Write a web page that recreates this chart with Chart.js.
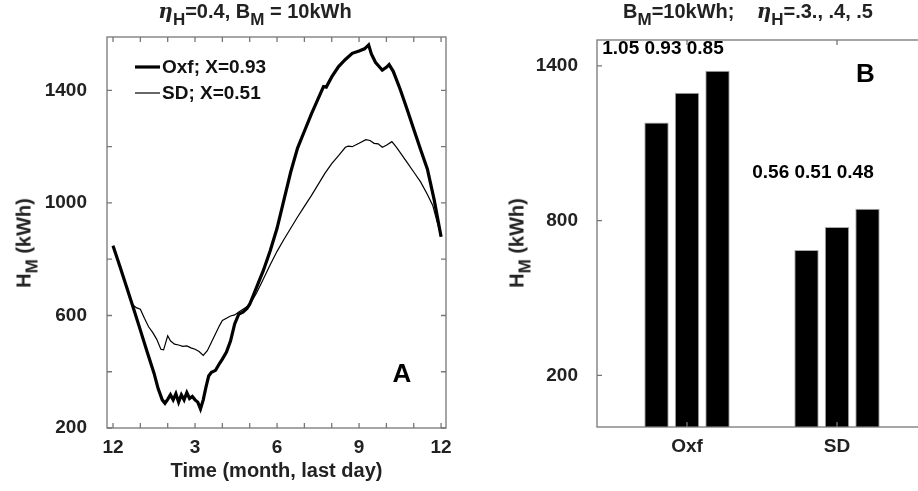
<!DOCTYPE html>
<html>
<head>
<meta charset="utf-8">
<script src="https://cdn.jsdelivr.net/npm/chart.js@4"></script>
<style>
    body { margin: 0; width: 918px; height: 491px; overflow: hidden; position: relative; background: #fff;
           font-family: "Liberation Sans", Arial, sans-serif; color: #222; }
    .panel { position: absolute; top: 0; height: 491px; }
    .title { position: absolute; top: -1px; font-size: 20px; font-weight: bold; white-space: nowrap; transform: translateX(-50%); }
    .ytitle { position: absolute; font-size: 20px; font-weight: bold; white-space: nowrap;
              transform: translate(-50%, -50%) rotate(-90deg); }
    sub { font-size: 17px; vertical-align: -7px; line-height: 0; }
    .eta { font-style: italic; font-family: "DejaVu Serif", serif; }
</style>
</head>
<body>
<div class="panel" style="left:0; width:460px;"><canvas id="line-chart"></canvas></div>
<div class="panel" style="left:460px; width:490px;"><canvas id="bar-chart"></canvas></div>

<div class="title" style="left:255px;"><span class="eta">η</span><sub>H</sub>=0.4, B<sub>M</sub> = 10kWh</div>
<div class="title" style="left:748px;">B<sub>M</sub>=10kWh;&nbsp;&nbsp;&nbsp;&nbsp;<span class="eta">η</span><sub>H</sub>=.3., .4, .5</div>
<div class="ytitle" style="left:24px; top:243px;">H<sub>M</sub> (kWh)</div>
<div class="ytitle" style="left:517px; top:243px;">H<sub>M</sub> (kWh)</div>

<script>
// Panel A: storage level through the year (months after last day of December)
const oxfMonths = [0, 0.25, 0.5, 0.75, 1.0, 1.25, 1.5, 1.65, 1.8, 1.9, 2.0, 2.1, 2.2, 2.3, 2.4, 2.5, 2.6, 2.7, 2.8, 2.9,
    3.0, 3.1, 3.2, 3.3, 3.4, 3.5, 3.6, 3.75, 3.9, 4.0, 4.15, 4.3, 4.45, 4.6, 4.75, 4.9, 5.0, 5.25, 5.5, 5.75,
    6.0, 6.25, 6.5, 6.75, 7.0, 7.25, 7.5, 7.7, 7.8, 8.0, 8.25, 8.5, 8.75, 9.0, 9.2, 9.35, 9.45, 9.6, 9.85, 10.0,
    10.1, 10.25, 10.5, 10.75, 11.0, 11.25, 11.5, 11.75, 12.0];
const oxfValues = [848, 775, 700, 625, 548, 470, 395, 340, 300, 288, 302, 318, 300, 322, 292, 318, 300, 326, 305, 312,
    300, 292, 268, 300, 345, 385, 398, 405, 430, 445, 470, 510, 570, 605, 612, 625, 640, 700, 760, 830,
    910, 1010, 1110, 1195, 1255, 1315, 1370, 1414, 1412, 1448, 1485, 1510, 1532, 1540, 1548, 1562, 1530, 1500, 1472, 1482,
    1492, 1468, 1405, 1335, 1262, 1190, 1120, 1010, 880];

const sdMonths = [0, 0.25, 0.5, 0.7, 0.85, 1.0, 1.15, 1.3, 1.45, 1.6, 1.75, 1.85, 2.0, 2.1, 2.25, 2.4, 2.55, 2.7, 2.85,
    3.0, 3.15, 3.3, 3.45, 3.6, 3.75, 3.9, 4.0, 4.15, 4.3, 4.45, 4.6, 4.8, 5.0, 5.25, 5.5, 5.75,
    6.0, 6.25, 6.5, 6.75, 7.0, 7.25, 7.5, 7.75, 8.0, 8.25, 8.5, 8.6, 8.75, 9.0, 9.25, 9.4, 9.55, 9.7, 9.85,
    10.0, 10.2, 10.35, 10.5, 10.75, 11.0, 11.25, 11.5, 11.7, 11.85, 12.0];
const sdValues = [848, 775, 700, 640, 628, 622, 590, 560, 540, 515, 480, 478, 528, 510, 498, 495, 490, 492, 485,
    480, 472, 458, 475, 505, 535, 565, 582, 590, 598, 602, 612, 625, 638, 680, 730, 780,
    828, 870, 910, 950, 988, 1025, 1065, 1105, 1140, 1168, 1198, 1202, 1200, 1212, 1225, 1222, 1212, 1210, 1198,
    1205, 1218, 1200, 1180, 1145, 1110, 1075, 1030, 990, 935, 880];

const seriesLabels = ['Oxf; X=0.93', 'SD; X=0.51'];
const monthTicks = [0, 3, 6, 9, 12];
const monthTickLabels = ['12', '3', '6', '9', '12'];
const monthMinorTicks = [0, 1, 2, 3, 4, 5, 6, 7, 8, 9, 10, 11, 12];
const lineYTicks = [200, 600, 1000, 1400];
const lineYMinorTicks = [200, 400, 600, 800, 1000, 1200, 1400];

// Panel B: storage needed for eta_H = .3, .4, .5
const groups = ['Oxf', 'SD'];
const etaLabels = ['0.3', '0.4', '0.5'];
const hmEta03 = [1180, 686];
const hmEta04 = [1296, 775];
const hmEta05 = [1381, 846];
const ratioLabels = ['1.05 0.93 0.85', '0.56 0.51 0.48'];
const barYTicks = [200, 800, 1400];

const textColor = '#222';
const frameColor = '#777';
const fontFamily = '"Liberation Sans", Arial, sans-serif';

// box round the plot with inward tick marks on all four sides
const frameTicks = {
    id: 'frameTicks',
    afterDatasetsDraw(chart, args, opts) {
        const { ctx, chartArea: a, scales } = chart;
        const len = 5;
        ctx.save();
        ctx.strokeStyle = frameColor;
        ctx.lineWidth = 1.3;
        ctx.strokeRect(a.left, a.top, a.right - a.left, a.bottom - a.top);
        ctx.beginPath();
        opts.xTicks.forEach(v => {
            const px = scales.x.getPixelForValue(v);
            ctx.moveTo(px, a.bottom); ctx.lineTo(px, a.bottom - len);
            ctx.moveTo(px, a.top); ctx.lineTo(px, a.top + len);
        });
        opts.yTicks.forEach(v => {
            const py = scales.y.getPixelForValue(v);
            ctx.moveTo(a.left, py); ctx.lineTo(a.left + len, py);
            ctx.moveTo(a.right, py); ctx.lineTo(a.right - len, py);
        });
        ctx.stroke();
        ctx.restore();
    }
};

// free text placed at data coordinates
const dataText = {
    id: 'dataText',
    afterDraw(chart, args, opts) {
        const { ctx, scales } = chart;
        ctx.save();
        ctx.fillStyle = '#000';
        ctx.textAlign = 'center';
        ctx.textBaseline = 'middle';
        opts.items.forEach(t => {
            ctx.font = `bold ${t.size}px ${fontFamily}`;
            ctx.fillText(t.text, scales.x.getPixelForValue(t.x) + (t.dx || 0), scales.y.getPixelForValue(t.y));
        });
        ctx.restore();
    }
};

// legend drawn inside the top left of the plot
const insideLegend = {
    id: 'insideLegend',
    afterDraw(chart) {
        const { ctx, chartArea: a } = chart;
        ctx.save();
        ctx.font = `bold 19px ${fontFamily}`;
        ctx.textBaseline = 'middle';
        chart.data.datasets.forEach((ds, i) => {
            const y = a.top + 30 + i * 26;
            ctx.strokeStyle = ds.borderColor;
            ctx.lineWidth = ds.borderWidth;
            ctx.beginPath();
            ctx.moveTo(a.left + 28, y);
            ctx.lineTo(a.left + 53, y);
            ctx.stroke();
            ctx.fillStyle = '#111';
            ctx.fillText(ds.label, a.left + 55, y + 1);
        });
        ctx.restore();
    }
};

function toPoints(xs, ys) {
    return xs.map((x, i) => ({ x: x, y: ys[i] }));
}

new Chart(document.getElementById('line-chart'), {
    type: 'line',
    data: {
        datasets: [
            {
                label: seriesLabels[0],
                data: toPoints(oxfMonths, oxfValues),
                borderColor: '#000',
                borderWidth: 3.2,
                pointRadius: 0,
                tension: 0
            },
            {
                label: seriesLabels[1],
                data: toPoints(sdMonths, sdValues),
                borderColor: '#000',
                borderWidth: 1.2,
                pointRadius: 0,
                tension: 0
            }
        ]
    },
    options: {
        responsive: true,
        maintainAspectRatio: false,
        animation: false,
        layout: { padding: { top: 37, right: 14, left: 0, bottom: 0 } },
        plugins: {
            legend: { display: false },
            tooltip: { enabled: false },
            frameTicks: { xTicks: monthMinorTicks, yTicks: lineYMinorTicks },
            dataText: { items: [{ text: 'A', x: 10.57, y: 388, size: 26 }] }
        },
        scales: {
            x: {
                type: 'linear',
                min: -0.22,
                max: 12.18,
                afterBuildTicks: scale => { scale.ticks = monthTicks.map(v => ({ value: v })); },
                afterFit: scale => { scale.height = 63; },
                grid: { display: false, drawTicks: false },
                border: { display: false },
                ticks: {
                    padding: 8,
                    color: textColor,
                    font: { family: fontFamily, size: 19, weight: 'bold' },
                    maxRotation: 0,
                    callback: v => monthTickLabels[monthTicks.indexOf(v)]
                },
                title: {
                    display: true,
                    text: 'Time (month, last day)',
                    color: textColor,
                    font: { family: fontFamily, size: 20, weight: 'bold' },
                    padding: { top: 0, bottom: 8 }
                }
            },
            y: {
                min: 200,
                max: 1590,
                afterBuildTicks: scale => { scale.ticks = lineYTicks.map(v => ({ value: v })); },
                afterFit: scale => { scale.width = 107; },
                grid: { display: false, drawTicks: false },
                border: { display: false },
                ticks: {
                    padding: 20,
                    color: textColor,
                    font: { family: fontFamily, size: 19, weight: 'bold' },
                    callback: v => String(v)
                }
            }
        }
    },
    plugins: [frameTicks, dataText, insideLegend]
});

const barSets = [hmEta03, hmEta04, hmEta05];

new Chart(document.getElementById('bar-chart'), {
    type: 'bar',
    data: {
        datasets: barSets.map((vals, i) => ({
            label: 'eta_H = ' + etaLabels[i],
            data: vals.map((v, g) => ({ x: g + 1, y: v })),
            backgroundColor: '#000',
            borderColor: '#aaa',
            borderWidth: 1,
            borderSkipped: 'bottom',
            categoryPercentage: 0.61,
            barPercentage: 0.8
        }))
    },
    options: {
        responsive: true,
        maintainAspectRatio: false,
        animation: false,
        layout: { padding: { top: 40, right: 5, left: 0, bottom: 0 } },
        plugins: {
            legend: { display: false },
            tooltip: { enabled: false },
            frameTicks: { xTicks: [1, 2], yTicks: barYTicks },
            dataText: {
                items: [
                    { text: ratioLabels[0], x: 1, dx: -24, y: 1466, size: 19 },
                    { text: ratioLabels[1], x: 2, dx: -24, y: 987, size: 19 },
                    { text: 'B', x: 2.19, y: 1364, size: 26 }
                ]
            }
        },
        scales: {
            x: {
                type: 'linear',
                offset: false,
                min: 0.4,
                max: 2.72,
                afterBuildTicks: scale => { scale.ticks = groups.map((g, i) => ({ value: i + 1 })); },
                afterFit: scale => { scale.height = 64; },
                grid: { display: false, drawTicks: false, offset: false },
                border: { display: false },
                ticks: {
                    padding: 8,
                    color: textColor,
                    font: { family: fontFamily, size: 19, weight: 'bold' },
                    maxRotation: 0,
                    callback: v => groups[v - 1]
                }
            },
            y: {
                min: 0,
                max: 1500,
                afterBuildTicks: scale => { scale.ticks = barYTicks.map(v => ({ value: v })); },
                afterFit: scale => { scale.width = 137; },
                grid: { display: false, drawTicks: false },
                border: { display: false },
                ticks: {
                    padding: 19,
                    color: textColor,
                    font: { family: fontFamily, size: 19, weight: 'bold' },
                    callback: v => String(v)
                }
            }
        }
    },
    plugins: [frameTicks, dataText]
});
</script>
</body>
</html>
